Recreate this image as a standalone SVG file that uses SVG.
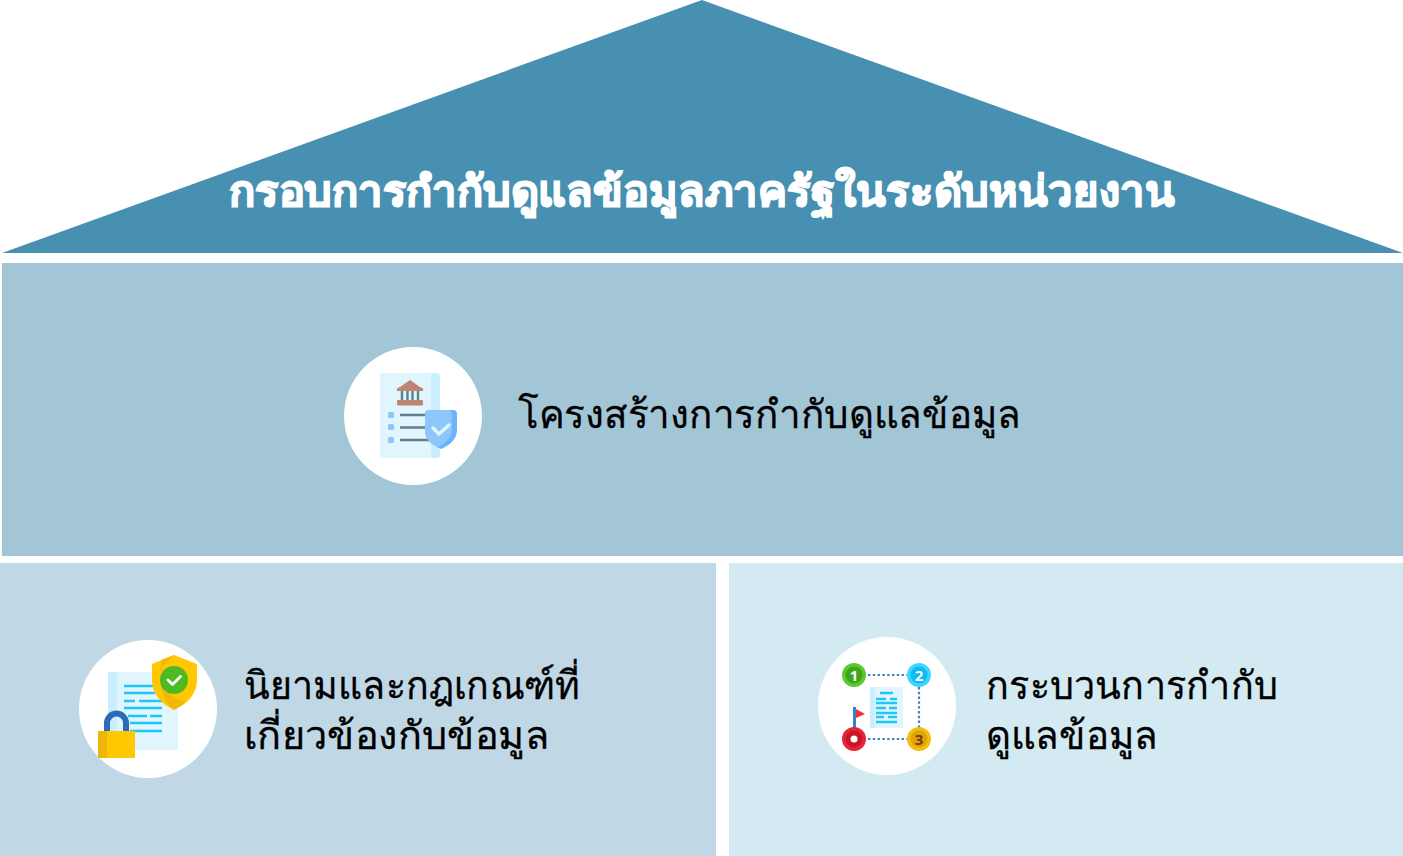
<svg xmlns="http://www.w3.org/2000/svg" width="1403" height="856" viewBox="0 0 1403 856">
<style>
text{font-family:"Noto Sans","Noto Sans CJK SC","DejaVu Sans",sans-serif;fill:#000}
.lbl{font-size:39px;stroke:#000;stroke-width:.3}
.ttl{font-size:42px;font-weight:700;fill:#fff;stroke:#fff;stroke-width:1.500}
.num{font-size:15px;font-weight:700;text-anchor:middle;fill:#fff}
.white{fill:#fff}
.ln{stroke:#5f7f8a;stroke-width:2.500;fill:none}
.cy{stroke:#1cc8f5;stroke-width:2.400;fill:none}
.dot{stroke:#3d7fc4;stroke-width:2.200;stroke-dasharray:2.400 2.400;fill:none}
</style>
<rect width="1403" height="856" fill="#fff"/>
<g id="roof"><polygon points="702,0 1403,253 2,253" fill="#4790b1"/><text class="ttl" x="229" y="206" textLength="946" lengthAdjust="spacingAndGlyphs">กรอบการกำกับดูแลข้อมูลภาครัฐในระดับหน่วยงาน</text></g>
<g id="structure">
<rect x="2" y="263" width="1401" height="293" fill="#a3c6d7"/>
<circle cx="413" cy="416" r="69" class="white"/>
<rect x="380" y="373" width="60" height="85" rx="3" fill="#c9eefe"/>
<path d="M383 373H431V458H383a3 3 0 0 1-3-3V376a3 3 0 0 1 3-3z" fill="#e0f5fd"/>
<path d="M397 391Q396 388 400 387L410 380L420 387Q424 388 423 391Z" fill="#c08474"/>
<rect x="397" y="400" width="26" height="5.500" rx="1" fill="#c08474"/>
<path d="M402 391V400M407.500 391V400M412.500 391V400M418 391V400" stroke="#5f7f8a" stroke-width="2.400"/>
<g fill="#8cc6fb"><rect x="388" y="412" width="6" height="6" rx="1.500"/><rect x="388" y="424" width="6" height="6" rx="1.500"/><rect x="388" y="437" width="6" height="6" rx="1.500"/></g>
<path class="ln" d="M400 415H428M400 427.500H428M400 440H430"/>
<path d="M429 410H453a4 4 0 0 1 4 4V430Q457 442 441 449Q425 442 425 430V414a4 4 0 0 1 4-4z" fill="#69b4fb"/>
<path d="M429 410H448a4 4 0 0 1 4 4V430Q452 440 438 447Q425 442 425 430V414a4 4 0 0 1 4-4z" fill="#8cc6fb"/>
<path d="M433 428L439 434L449 425" stroke="#e0f5fd" stroke-width="3.500" fill="none" stroke-linecap="round" stroke-linejoin="round"/>
<text class="lbl" x="518" y="428" textLength="503" lengthAdjust="spacingAndGlyphs">โครงสร้างการกำกับดูแลข้อมูล</text>
</g>
<g id="definitions">
<rect x="0" y="563" width="716" height="293" fill="#c0d8e6"/>
<circle cx="148" cy="709" r="69" class="white"/>
<rect x="108" y="672" width="70" height="78" fill="#e0f5fd"/>
<rect x="108" y="672" width="9" height="78" fill="#c9eefe"/>
<path class="cy" d="M124 686H155M124 693H155M124 701H135M139 701H162M124 708H162M128 716H147M150 716H162M130 723H162M130 731H162"/>
<path d="M174 655L197 664V680Q197 699 174 710Q152 699 152 680V664Z" fill="#ffc800"/>
<path d="M174 655L161 660V688Q165 704 174 710Q181 706 186 702Q161 695 161 674Q161 665 174 655Z" fill="#eeb40a" opacity=".8"/>
<circle cx="174" cy="680" r="14" fill="#4dba22"/>
<path d="M168 680L172.500 684.500L180.500 676.500" stroke="#fff" stroke-width="2.800" fill="none" stroke-linecap="round" stroke-linejoin="round"/>
<path d="M107 733V723a9.500 9.500 0 0 1 19 0V733" stroke="#2d6cb5" stroke-width="6" fill="none"/>
<rect x="98" y="731" width="37" height="27" rx="1" fill="#ffc800"/>
<path d="M99 731H107V758H99a1 1 0 0 1-1-1V732a1 1 0 0 1 1-1z" fill="#eeb40a"/>
<text class="lbl"><tspan x="244" y="699" textLength="336" lengthAdjust="spacingAndGlyphs">นิยามและกฎเกณฑ์ที่</tspan><tspan x="244" y="749" textLength="305" lengthAdjust="spacingAndGlyphs">เกี่ยวข้องกับข้อมูล</tspan></text>
</g>
<g id="process">
<rect x="729" y="563" width="674" height="293" fill="#d4eaf2"/>
<circle cx="887" cy="706" r="69" class="white"/>
<path class="dot" d="M868 675H907M919 687V727M868 739H907"/>
<rect x="870" y="687" width="33" height="41" fill="#e0f5fd"/>
<rect x="870" y="687" width="5" height="41" fill="#c9eefe"/>
<path class="cy" d="M880 693H893M876 699H886M890 699H897M876 703H897M876 708H886M889 708H897M876 713H897M876 717H884M888 717H897M876 722H897"/>
<rect x="853" y="707" width="3" height="22" fill="#3d7fc4"/>
<path d="M856 709L865 714L856 718Z" fill="#f0303f"/>
<circle cx="854" cy="675" r="12" fill="#5cc92e"/><circle cx="854" cy="675" r="8.500" fill="#3fa51c"/>
<circle cx="919" cy="675" r="12" fill="#3dd6ff"/><circle cx="919" cy="675" r="8.500" fill="#0cbcf5"/>
<circle cx="919" cy="739" r="12" fill="#f2bd0c"/><circle cx="919" cy="739" r="8.500" fill="#dca406"/>
<circle cx="854" cy="739" r="12" fill="#e8243a"/><circle cx="854" cy="739" r="8.500" fill="#c81828"/><circle cx="854" cy="739" r="3.500" fill="#fff"/>
<text class="num" x="854" y="680.500">1</text>
<text class="num" x="919" y="680.500">2</text>
<text class="num" x="919" y="744.500" style="fill:#7a3a18">3</text>
<text class="lbl"><tspan x="986" y="699" textLength="292" lengthAdjust="spacingAndGlyphs">กระบวนการกำกับ</tspan><tspan x="986" y="749" textLength="172" lengthAdjust="spacingAndGlyphs">ดูแลข้อมูล</tspan></text>
</g>
</svg>
